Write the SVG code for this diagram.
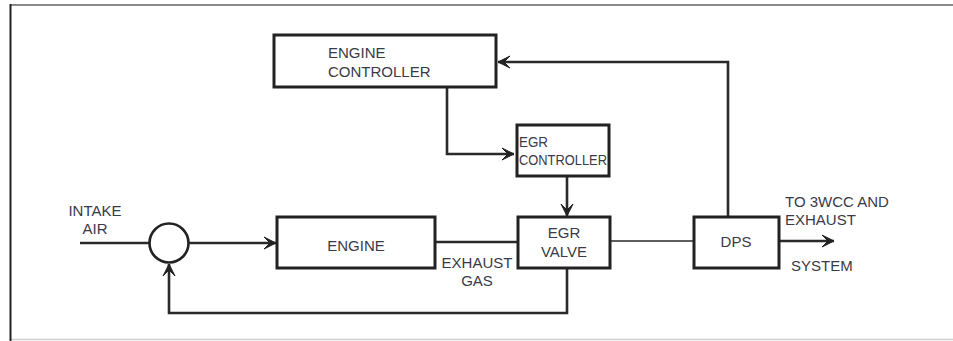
<svg xmlns="http://www.w3.org/2000/svg" width="953" height="341" viewBox="0 0 953 341">
<defs>
<style>
.box{fill:#fff;stroke:#222;stroke-width:3}
.ln{fill:none;stroke:#2a2a2a;stroke-width:2.6}
.thin{fill:none;stroke:#2a2a2a;stroke-width:1.6}
text{font-family:"Liberation Sans",Arial,sans-serif;font-size:15px;fill:#3a3a48}
.c{text-anchor:middle}
</style>
<marker id="ah" viewBox="-13 -7 14 14" markerWidth="14" markerHeight="14" refX="0" refY="0" orient="auto" markerUnits="userSpaceOnUse">
<path d="M0,0 L-12,-6 L-6,0 L-12,6 Z" fill="#222" stroke="#222" stroke-width="1" stroke-linejoin="miter"/>
</marker>
</defs>
<rect width="953" height="341" fill="#fff"/>
<g id="frame">
<line x1="10" y1="5" x2="953" y2="5" stroke="#8a8a8a" stroke-width="2"/>
<line x1="10" y1="339.5" x2="953" y2="339.5" stroke="#cfcfcf" stroke-width="1.5"/>
<line x1="10.5" y1="4" x2="10.5" y2="341" stroke="#222" stroke-width="2"/>
</g>
<g id="connectors">
<line class="ln" x1="80" y1="243" x2="149" y2="243"/>
<line class="ln" x1="189" y1="243" x2="276" y2="243" marker-end="url(#ah)"/>
<line class="ln" x1="435" y1="242" x2="518" y2="242"/>
<line class="thin" x1="611" y1="241" x2="694" y2="241"/>
<line class="ln" x1="779" y1="241" x2="834" y2="241" marker-end="url(#ah)"/>
<polyline class="ln" points="447,87 447,154 514,154" marker-end="url(#ah)"/>
<line class="ln" x1="567" y1="176" x2="567" y2="216" marker-end="url(#ah)"/>
<polyline class="ln" points="728,217 728,62 498,62" marker-end="url(#ah)"/>
<polyline class="ln" points="567,268 567,313 169,313 169,264" marker-end="url(#ah)"/>
</g>
<g id="sum">
<circle cx="169" cy="243" r="19.5" fill="#fff" stroke="#222" stroke-width="2.6"/>
</g>
<g id="intake-label">
<text class="c" x="95" y="216">INTAKE</text>
<text class="c" x="95" y="234">AIR</text>
</g>
<g id="engine-controller">
<rect class="box" x="274" y="35" width="222" height="52"/>
<text x="328" y="58">ENGINE</text>
<text x="328" y="77">CONTROLLER</text>
</g>
<g id="egr-controller">
<rect class="box" x="517" y="125" width="92" height="51"/>
<text x="519" y="147" textLength="29" lengthAdjust="spacingAndGlyphs">EGR</text>
<text x="519" y="165" textLength="88" lengthAdjust="spacingAndGlyphs">CONTROLLER</text>
</g>
<g id="engine">
<rect class="box" x="277" y="217" width="158" height="51"/>
<text class="c" x="356" y="251">ENGINE</text>
</g>
<g id="exhaust-gas-label">
<text class="c" x="477" y="268">EXHAUST</text>
<text class="c" x="477" y="286">GAS</text>
</g>
<g id="egr-valve">
<rect class="box" x="518" y="217" width="92" height="51"/>
<text class="c" x="564" y="238">EGR</text>
<text class="c" x="564" y="257">VALVE</text>
</g>
<g id="dps">
<rect class="box" x="694" y="217" width="85" height="51"/>
<text class="c" x="736" y="247">DPS</text>
</g>
<g id="out-label">
<text x="785" y="207">TO 3WCC AND</text>
<text x="785" y="225">EXHAUST</text>
<text x="791" y="271">SYSTEM</text>
</g>
</svg>
